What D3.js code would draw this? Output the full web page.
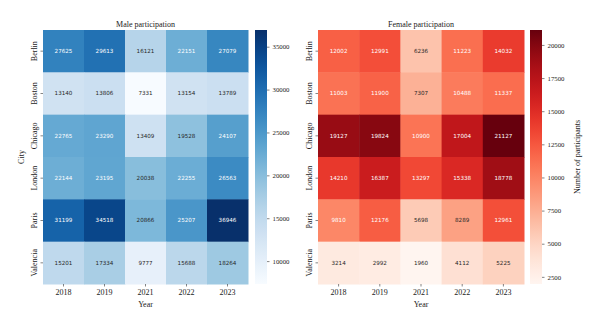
<!DOCTYPE html>
<html lang="en">
  <head>
    <meta charset="utf-8">
    <title>Marathon participation heatmaps</title>
    <script src="https://d3js.org/d3.v7.min.js"></script>
    <style>
      body { margin: 0; background: #fff; }
      text { font-family: "Liberation Serif", "DejaVu Serif", serif; fill: #1a1a1a; }
      .cell-label { font-family: "DejaVu Sans", sans-serif; font-size: 5.6px; }
      .domain { display: none; }
    </style>
  </head>
  <body>
    <div id="main"></div>
    <script>
      var cities = ["Berlin", "Boston", "Chicago", "London", "Paris", "Valencia"];
      var years = ["2018", "2019", "2021", "2022", "2023"];
      var male = [
        [27625, 29613, 16121, 22151, 27079],
        [13140, 13806, 7331, 13154, 13789],
        [22765, 23290, 13409, 19528, 24107],
        [22144, 23195, 20038, 22255, 26563],
        [31199, 34518, 20866, 25207, 36946],
        [15201, 17334, 9777, 15688, 18264]
      ];
      var female = [
        [12002, 12991, 6236, 11223, 14032],
        [11003, 11900, 7307, 10488, 11337],
        [19127, 19824, 10900, 17004, 21127],
        [14210, 16387, 13297, 15338, 18778],
        [9810, 12176, 5698, 8289, 12961],
        [3214, 2992, 1960, 4112, 5225]
      ];
      var maleTicks = [10000, 15000, 20000, 25000, 30000, 35000];
      var femaleTicks = [2500, 5000, 7500, 10000, 12500, 15000, 17500, 20000];

      var svg = d3.select("#main").append("svg")
        .attr("width", 600)
        .attr("height", 328);

      var plotTop = 30, plotBottom = 284;

      function luminance(c) {
        var rgb = d3.rgb(c);
        var f = function(v) { v /= 255; return v <= 0.03928 ? v / 12.92 : Math.pow((v + 0.055) / 1.055, 2.4); };
        return 0.2126 * f(rgb.r) + 0.7152 * f(rgb.g) + 0.0722 * f(rgb.b);
      }

      function heatmap(opts) {
        var flat = [];
        opts.data.forEach(function(row, i) {
          row.forEach(function(v, j) { flat.push({city: cities[i], year: years[j], value: v}); });
        });
        var ext = d3.extent(flat, function(d) { return d.value; });
        var color = d3.scaleSequential(opts.interp).domain(ext);
        var x = d3.scaleBand().domain(years).range([opts.left, opts.right]);
        var y = d3.scaleBand().domain(cities).range([plotTop, plotBottom]);
        var g = svg.append("g");

        g.selectAll("rect.cell").data(flat).enter().append("rect")
          .attr("class", "cell")
          .attr("x", function(d) { return x(d.year); })
          .attr("y", function(d) { return y(d.city); })
          .attr("width", x.bandwidth() + 0.5)
          .attr("height", y.bandwidth() + 0.5)
          .attr("fill", function(d) { return color(d.value); });

        g.selectAll("text.cell-label").data(flat).enter().append("text")
          .attr("class", "cell-label")
          .attr("x", function(d) { return x(d.year) + x.bandwidth() / 2; })
          .attr("y", function(d) { return y(d.city) + y.bandwidth() / 2; })
          .attr("text-anchor", "middle")
          .attr("dy", "0.35em")
          .style("fill", function(d) { return luminance(color(d.value)) > 0.408 ? "#262626" : "#ffffff"; })
          .text(function(d) { return d.value; });

        // axes
        var xAxis = g.append("g").attr("transform", "translate(0," + plotBottom + ")")
          .call(d3.axisBottom(x).tickSize(2.5).tickPadding(3));
        xAxis.selectAll("text").style("font-size", "8px");
        var yAxis = g.append("g").attr("transform", "translate(" + opts.left + ",0)")
          .call(d3.axisLeft(y).tickSize(2.5).tickPadding(3));
        yAxis.selectAll("text")
          .style("font-size", "8px")
          .attr("text-anchor", "middle")
          .attr("x", 0).attr("y", 0).attr("dy", 0)
          .attr("transform", "translate(-6.5,0) rotate(-90)");
        g.selectAll(".tick line").attr("stroke", "#333").attr("stroke-width", 0.6);

        g.append("text")
          .attr("x", (opts.left + opts.right) / 2)
          .attr("y", 307)
          .attr("text-anchor", "middle")
          .style("font-size", "8px")
          .text("Year");
        if (opts.yLabel) {
          g.append("text")
            .attr("transform", "translate(" + (opts.left - 19) + "," + ((plotTop + plotBottom) / 2) + ") rotate(-90)")
            .attr("text-anchor", "middle")
            .style("font-size", "8px")
            .text(opts.yLabel);
        }
        g.append("text")
          .attr("x", (opts.left + opts.right) / 2)
          .attr("y", 27)
          .attr("text-anchor", "middle")
          .style("font-size", "8px")
          .text(opts.title);

        // colorbar
        var cbW = 12;
        var cy = d3.scaleLinear().domain(ext).range([plotBottom, plotTop]);
        var id = "grad" + opts.left;
        var grad = svg.append("defs").append("linearGradient")
          .attr("id", id).attr("x1", 0).attr("y1", 1).attr("x2", 0).attr("y2", 0);
        d3.range(0, 1.0001, 0.05).forEach(function(t) {
          grad.append("stop").attr("offset", t).attr("stop-color", opts.interp(t));
        });
        g.append("rect")
          .attr("x", opts.cbX).attr("y", plotTop)
          .attr("width", cbW).attr("height", plotBottom - plotTop)
          .attr("fill", "url(#" + id + ")");
        var cAxis = g.append("g").attr("transform", "translate(" + (opts.cbX + cbW) + ",0)")
          .call(d3.axisRight(cy).tickValues(opts.ticks).tickSize(2.5).tickPadding(3).tickFormat(d3.format("d")));
        cAxis.selectAll("text").style("font-size", "6.8px");
        cAxis.selectAll(".tick line").attr("stroke", "#333").attr("stroke-width", 0.6);
        if (opts.cbLabel) {
          g.append("text")
            .attr("transform", "translate(" + (opts.cbX + cbW + 35) + "," + ((plotTop + plotBottom) / 2) + ") rotate(-90)")
            .attr("text-anchor", "middle")
            .attr("dy", "0.35em")
            .style("font-size", "8px")
            .text(opts.cbLabel);
        }
      }

      heatmap({data: male, interp: d3.interpolateBlues, left: 43, right: 248, cbX: 255,
        ticks: maleTicks, title: "Male participation", yLabel: "City"});
      heatmap({data: female, interp: d3.interpolateReds, left: 318, right: 524, cbX: 530,
        ticks: femaleTicks, title: "Female participation", cbLabel: "Number of participants"});
    </script>
  </body>
</html>
